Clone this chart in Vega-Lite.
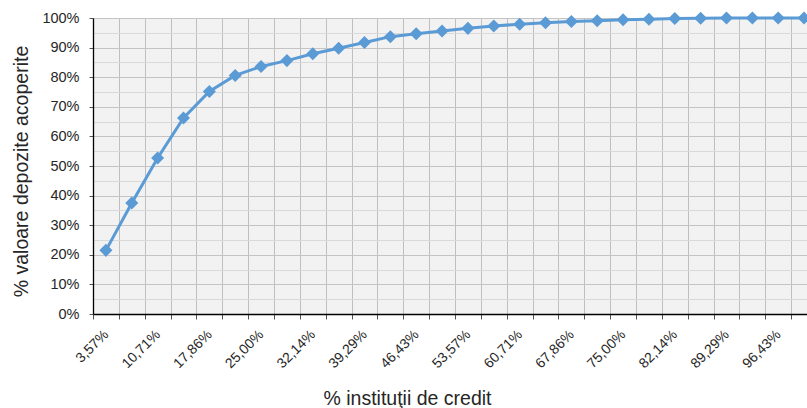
{
  "$schema": "https://vega.github.io/schema/vega-lite/v6.json",
  "width": 714,
  "height": 296,
  "autosize": {"type": "none"},
  "padding": {"left": 93, "top": 18, "right": 0, "bottom": 94},
  "background": "white",
  "config": {
    "view": {"fill": "#f2f2f2", "stroke": null},
    "font": "Liberation Sans",
    "axis": {"labelFont": "Liberation Sans", "titleFont": "Liberation Sans", "labelColor": "#262626", "titleColor": "#262626", "titleFontWeight": "normal", "domainColor": "#000000", "domainWidth": 1.3, "tickColor": "#555555"}
  },
  "data": {"values": [
    {"x": "3,57%", "y": 0.215},
    {"x": "7,14%", "y": 0.375},
    {"x": "10,71%", "y": 0.527},
    {"x": "14,29%", "y": 0.662},
    {"x": "17,86%", "y": 0.752},
    {"x": "21,43%", "y": 0.806},
    {"x": "25,00%", "y": 0.836},
    {"x": "28,57%", "y": 0.856},
    {"x": "32,14%", "y": 0.879},
    {"x": "35,71%", "y": 0.898},
    {"x": "39,29%", "y": 0.917},
    {"x": "42,86%", "y": 0.937},
    {"x": "46,43%", "y": 0.947},
    {"x": "50,00%", "y": 0.956},
    {"x": "53,57%", "y": 0.965},
    {"x": "57,14%", "y": 0.973},
    {"x": "60,71%", "y": 0.979},
    {"x": "64,29%", "y": 0.984},
    {"x": "67,86%", "y": 0.988},
    {"x": "71,43%", "y": 0.991},
    {"x": "75,00%", "y": 0.994},
    {"x": "78,57%", "y": 0.996},
    {"x": "82,14%", "y": 0.998},
    {"x": "85,71%", "y": 0.999},
    {"x": "89,29%", "y": 1.0},
    {"x": "92,86%", "y": 1.0},
    {"x": "96,43%", "y": 1.0},
    {"x": "100,00%", "y": 1.0}
  ]},
  "encoding": {
    "x": {
      "field": "x", "type": "nominal", "sort": null,
      "scale": {"range": [0, 724], "paddingInner": 0, "paddingOuter": 0},
      "axis": {
        "title": "% instituţii de credit",
        "titleFontSize": 19.5,
        "titleX": 314, "titleY": 84, "titleAlign": "center", "titleBaseline": "middle",
        "labelAngle": -45, "labelAlign": "right", "labelBaseline": "middle",
        "labelFontSize": 14, "labelPadding": 13,
        "labelExpr": "indexof(['3,57%','10,71%','17,86%','25,00%','32,14%','39,29%','46,43%','53,57%','60,71%','67,86%','75,00%','82,14%','89,29%','96,43%'], datum.label) >= 0 ? datum.label : ''",
        "tickBand": "extent", "tickSize": 5,
        "grid": true, "gridColor": "#bfbfbf", "gridWidth": 1,
        "labelOverlap": false
      }
    },
    "y": {
      "field": "y", "type": "quantitative",
      "scale": {"domain": [0, 1], "nice": false},
      "axis": {
        "title": "% valoare depozite acoperite",
        "titleFontSize": 19.5,
        "titleAngle": -90, "titleX": -72, "titleY": 153, "titleAlign": "center", "titleBaseline": "middle",
        "values": [0, 0.05, 0.1, 0.15, 0.2, 0.25, 0.3, 0.35, 0.4, 0.45, 0.5, 0.55, 0.6, 0.65, 0.7, 0.75, 0.8, 0.85, 0.9, 0.95, 1],
        "format": ".0%",
        "labelExpr": "round(datum.value*100) % 10 == 0 ? datum.label : ''",
        "labelFontSize": 14.5, "labelPadding": 10, "tickSize": 4,
        "tickOpacity": {"condition": {"test": "round(datum.value*100) % 10 != 0", "value": 0}, "value": 1},
        "gridColor": {"condition": {"test": "round(datum.value*100) % 10 != 0", "value": "#d9d9d9"}, "value": "#c4c4c4"},
        "labelOverlap": false
      }
    }
  },
  "layer": [
    {"mark": {"type": "line", "color": "#5b9bd5", "strokeWidth": 3}},
    {"mark": {"type": "point", "shape": "diamond", "filled": true, "opacity": 1, "color": "#5b9bd5", "size": 170}}
  ]
}
